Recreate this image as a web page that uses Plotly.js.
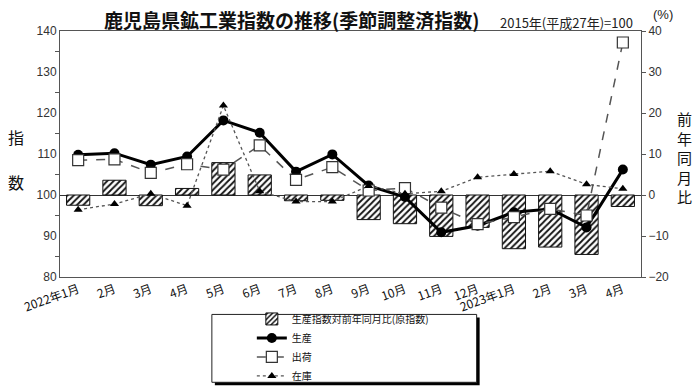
<!DOCTYPE html>
<html>
<head>
<meta charset="utf-8">
<script src="https://cdn.plot.ly/plotly-3.0.1.min.js"></script>
<style>html,body{margin:0;padding:0;background:#fff;}#chart{width:700px;height:391px;}</style>
</head>
<body>
<div id="chart"></div>
<script>
// ---- data ----
const monthLabels = ["2022年1月","2月","3月","4月","5月","6月","7月","8月","9月","10月","11月","12月","2023年1月","2月","3月","4月"];
const monthIndex = [0,1,2,3,4,5,6,7,8,9,10,11,12,13,14,15];
// 生産指数対前年同月比(原指数) (%)
const prodYoY = [-2.5, 3.6, -2.6, 1.6, 7.9, 4.9, -1.4, -1.3, -6.0, -7.0, -10.1, -7.9, -13.1, -12.7, -14.5, -2.8];
// 生産 (index)
const production = [109.8, 110.2, 107.4, 109.4, 118.2, 115.2, 105.7, 109.9, 102.3, 99.5, 90.9, 92.5, 95.8, 96.6, 92.1, 106.2];
// 出荷 (index)
const shipments = [108.5, 108.7, 105.4, 107.5, 106.2, 112.1, 103.7, 106.8, 101.1, 101.7, 96.9, 92.9, 94.6, 96.6, 95.0, 137.2];
// 在庫 (index)
const inventory = [96.4, 97.8, 100.3, 97.4, 121.8, 100.9, 98.4, 98.4, 102.2, 100.3, 100.9, 104.3, 105.1, 105.8, 102.6, 101.5];

const seriesNames = ["生産指数対前年同月比(原指数)", "生産", "出荷", "在庫"];

// ---- geometry helpers (pixel -> paper) ----
const L = 60, R = 641.5, T = 31, B = 277.5;
const px = v => (v - L) / (R - L);
const py = v => (B - v) / (B - T);

const FONT = "Liberation Sans, Arial, Noto Sans CJK JP, sans-serif";
const JFONT = "Noto Sans CJK JP, sans-serif";

const traces = [
  {
    type: "bar", name: seriesNames[0], x: monthIndex, y: prodYoY, yaxis: "y", width: 0.64,
    marker: { color: "#ffffff", line: { color: "#111", width: 1 },
      pattern: { shape: "/", fgcolor: "#111", bgcolor: "#ffffff", size: 4.5, solidity: 0.4 } }
  },
  {
    type: "scatter", mode: "lines+markers", name: seriesNames[1], x: monthIndex, y: production, yaxis: "y2",
    line: { color: "#000", width: 3 }, marker: { symbol: "circle", size: 10, color: "#000" }
  },
  {
    type: "scatter", mode: "lines+markers", name: seriesNames[2], x: monthIndex, y: shipments, yaxis: "y2",
    line: { color: "#555", width: 1.5, dash: "dash" },
    marker: { symbol: "square", size: 11, color: "#fff", line: { color: "#333", width: 1.2 } }
  },
  {
    type: "scatter", mode: "lines+markers", name: seriesNames[3], x: monthIndex, y: inventory, yaxis: "y2",
    line: { color: "#555", width: 1.3, dash: "dot" },
    marker: { symbol: "triangle-up", size: 8, color: "#000" }
  }
];

const layout = {
  width: 700, height: 391,
  margin: { l: L, r: 700 - R, t: T, b: 391 - B, pad: 0, autoexpand: false },
  paper_bgcolor: "#fff", plot_bgcolor: "#fff",
  showlegend: true,
  barmode: "overlay",
  font: { family: FONT, size: 12, color: "#222" },
  xaxis: {
    range: [-0.5, 15.5], tickvals: monthIndex, ticktext: monthLabels, tickangle: -20,
    showgrid: false, zeroline: false, showline: true, mirror: true, linecolor: "#555", linewidth: 1,
    ticks: "", automargin: false, tickfont: { family: JFONT, size: 12, color: "#111" }
  },
  yaxis: {
    side: "right", range: [-20, 40], dtick: 10, showgrid: false, automargin: false,
    zeroline: true, zerolinecolor: "#333", zerolinewidth: 1,
    showline: true, linecolor: "#555", linewidth: 1, ticks: "outside", ticklen: 4, tickcolor: "#555",
    tickfont: { family: FONT, size: 12, color: "#333" }
  },
  yaxis2: {
    side: "left", overlaying: "y", range: [80, 140], dtick: 10, showgrid: false, zeroline: false,
    showline: true, linecolor: "#555", linewidth: 1, ticks: "", automargin: false,
    minor: { dtick: 5, ticks: "outside", ticklen: 4, tickcolor: "#555", showgrid: false },
    tickfont: { family: FONT, size: 12, color: "#333" }
  },
  legend: {
    xref: "paper", yref: "paper", x: px(252), y: py(305), xanchor: "left", yanchor: "top",
    bgcolor: "rgba(0,0,0,0)", borderwidth: 0, traceorder: "normal",
    font: { family: JFONT, size: 10, color: "#111" }, itemwidth: 30, tracegroupgap: 0
  },
  shapes: [
    { type: "rect", xref: "paper", yref: "paper", x0: px(215), x1: px(480), y0: py(318), y1: py(386),
      fillcolor: "#000", line: { width: 0 } },
    { type: "rect", xref: "paper", yref: "paper", x0: px(212), x1: px(477), y0: py(315), y1: py(383),
      fillcolor: "#fff", line: { color: "#222", width: 1 } }
  ],
  annotations: [
    { xref: "paper", yref: "paper", x: px(292), y: py(19), text: "<b>鹿児島県鉱工業指数の推移(季節調整済指数)</b>",
      showarrow: false, font: { family: JFONT, size: 19, color: "#111" }, xanchor: "center", yanchor: "middle" },
    { xref: "paper", yref: "paper", x: px(567), y: py(22), text: "2015年(平成27年)=100",
      showarrow: false, font: { family: JFONT, size: 13, color: "#222" }, xanchor: "center", yanchor: "middle" },
    { xref: "paper", yref: "paper", x: px(664), y: py(14), text: "(%)",
      showarrow: false, font: { family: FONT, size: 13, color: "#222" }, xanchor: "center", yanchor: "middle" },
    { xref: "paper", yref: "paper", x: px(16), y: py(137), text: "指",
      showarrow: false, font: { family: JFONT, size: 16, color: "#111" }, xanchor: "center", yanchor: "middle" },
    { xref: "paper", yref: "paper", x: px(16), y: py(182), text: "数",
      showarrow: false, font: { family: JFONT, size: 16, color: "#111" }, xanchor: "center", yanchor: "middle" },
    { xref: "paper", yref: "paper", x: px(685), y: py(158), text: "前<br>年<br>同<br>月<br>比",
      showarrow: false, font: { family: JFONT, size: 15, color: "#111" }, xanchor: "center", yanchor: "middle" }
  ]
};

Plotly.newPlot("chart", traces, layout, { displayModeBar: false, staticPlot: true });
</script>
</body>
</html>
